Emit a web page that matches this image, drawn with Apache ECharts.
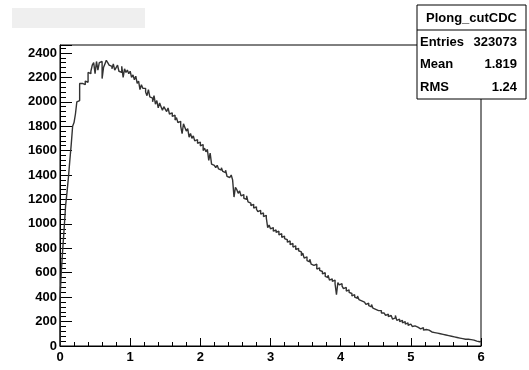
<!DOCTYPE html>
<html>
<head>
<meta charset="utf-8">
<script src="https://cdn.jsdelivr.net/npm/echarts@6/dist/echarts.min.js"></script>
<style>
  html, body { margin: 0; padding: 0; background: #fff; }
  #chart { width: 529px; height: 370px; }
</style>
</head>
<body>
<div id="chart"></div>
<script>
// histogram Plong_cutCDC, 300 bins from 0 to 6
var xMin = 0;
var xMax = 6;
var binWidth = 0.02;
var counts = [
  380, 620, 800, 970, 1150,   1260, 1380, 1520, 1650, 1800,
  1830, 1900, 2000, 2010, 2150,   2150, 2160, 2140, 2170, 2160,
  2240, 2230, 2250, 2300, 2320,   2230, 2330, 2260, 2320, 2330,
  2190, 2280, 2310, 2340, 2320,   2300, 2290, 2270, 2310, 2260,
  2280, 2300, 2250, 2240, 2290,   2200, 2270, 2240, 2260, 2230,
  2250, 2200, 2220, 2180, 2210,   2150, 2170, 2100, 2140, 2110,
  2110, 2080, 2050, 2100, 2040,   2030, 2000, 2050, 1980, 2010,
  1950, 1990, 1960, 1930, 1960,   1940, 1920, 1950, 1900, 1910,
  1880, 1890, 1850, 1870, 1830,   1840, 1800, 1740, 1820, 1790,
  1760, 1780, 1710, 1740, 1700,   1720, 1680, 1690, 1660, 1670,
  1640, 1650, 1600, 1620, 1590,   1610, 1520, 1580, 1490, 1480,
  1470, 1460, 1480, 1450, 1440,   1460, 1430, 1420, 1440, 1390,
  1380, 1370, 1400, 1360, 1220,   1300, 1280, 1250, 1270, 1230,
  1240, 1210, 1200, 1230, 1180,   1170, 1150, 1160, 1130, 1140,
  1120, 1100, 1110, 1080, 1090,   1060, 1070, 1050, 970, 990,
  960, 970, 940, 950, 930,   940, 910, 920, 890, 900,
  880, 870, 850, 860, 830,   840, 810, 820, 790, 800,
  780, 770, 740, 760, 720,   730, 700, 690, 710, 670,
  660, 650, 670, 630, 640,   620, 610, 590, 600, 570,
  560, 580, 540, 550, 530,   540, 510, 420, 520, 500,
  510, 490, 470, 480, 450,   460, 440, 430, 410, 420,
  400, 390, 410, 380, 370,   380, 360, 350, 340, 350,
  330, 320, 340, 310, 300,   310, 290, 280, 290, 270,
  270, 260, 250, 260, 240,   250, 240, 220, 230, 250,
  210, 220, 200, 210, 190,   200, 180, 190, 170, 180,
  170, 160, 165, 150, 155,   150, 140, 145, 150, 130,
  135, 125, 130, 140, 115,   120, 110, 115, 105, 110,
  100, 105, 95, 100, 90,   90, 85, 95, 80, 85,
  75, 80, 70, 75, 65,   70, 60, 65, 55, 60,
  55, 50, 52, 45, 48,   45, 40, 42, 35, 38
];
var statsTitle = 'Plong_cutCDC';
var statsNames = ['Entries', 'Mean', 'RMS'];
var statsValues = ['323073', '1.819', '1.24'];

// step outline: start on the baseline, one point per bin low edge, close at the upper edge
var outline = [[xMin, 0]];
for (var i = 0; i < counts.length; i++) {
  outline.push([+(xMin + i * binWidth).toFixed(4), counts[i]]);
}
outline.push([xMax, counts[counts.length - 1]]);

var font = '"Liberation Sans", Arial, sans-serif';
var chart = echarts.init(document.getElementById('chart'));

var boxL = 417, boxR = 526, boxT = 5, boxB = 99;
var graphics = [
  { type: 'rect', left: 12, top: 8, shape: { width: 133, height: 20 }, style: { fill: '#efefef' }, z: 10 },
  { type: 'rect', shape: { x: boxL, y: boxT, width: boxR - boxL, height: boxB - boxT }, style: { fill: '#fff', stroke: '#000', lineWidth: 1 }, z: 20 },
  { type: 'line', shape: { x1: boxL, y1: 30, x2: boxR, y2: 30 }, style: { stroke: '#000', lineWidth: 1 }, z: 21 },
  { type: 'text', x: (boxL + boxR) / 2, y: 18, style: { text: statsTitle, font: 'bold 13px ' + font, fill: '#000', align: 'center', verticalAlign: 'middle' }, z: 22 }
];
var rowsY = [42, 64, 87];
for (var r = 0; r < statsNames.length; r++) {
  graphics.push({ type: 'text', x: 420, y: rowsY[r], style: { text: statsNames[r], font: 'bold 13px ' + font, fill: '#000', align: 'left', verticalAlign: 'middle' }, z: 22 });
  graphics.push({ type: 'text', x: 517, y: rowsY[r], style: { text: statsValues[r], font: 'bold 13px ' + font, fill: '#000', align: 'right', verticalAlign: 'middle' }, z: 22 });
}

var plain = function (v) { return String(v); };

chart.setOption({
  animation: false,
  backgroundColor: '#fff',
  grid: {
    left: 60, right: 48, top: 45, bottom: 24,
    show: true, borderColor: '#000', borderWidth: 1, backgroundColor: 'transparent'
  },
  xAxis: {
    type: 'value', min: xMin, max: xMax, interval: 1,
    axisLine: { show: true, lineStyle: { color: '#000', width: 1 } },
    axisTick: { show: true, inside: true, length: 8, lineStyle: { color: '#000' } },
    minorTick: { show: true, splitNumber: 5, length: 4, lineStyle: { color: '#000' } },
    splitLine: { show: false },
    axisLabel: { color: '#000', fontSize: 13, fontWeight: 'bold', fontFamily: font, margin: 5, formatter: plain }
  },
  yAxis: {
    type: 'value', min: 0, max: 2465, interval: 200,
    axisLine: { show: true, lineStyle: { color: '#000', width: 1 } },
    axisTick: { show: true, inside: true, length: 12, lineStyle: { color: '#000' } },
    minorTick: { show: true, splitNumber: 5, length: 6, lineStyle: { color: '#000' } },
    splitLine: { show: false },
    axisLabel: { color: '#000', fontSize: 13, fontWeight: 'bold', fontFamily: font, margin: 3, showMaxLabel: false, formatter: plain }
  },
  series: [{
    type: 'line',
    step: 'end',
    data: outline,
    symbol: 'none',
    lineStyle: { color: '#333', width: 1.4 },
    z: 5
  }],
  graphic: graphics
});
</script>
</body>
</html>
